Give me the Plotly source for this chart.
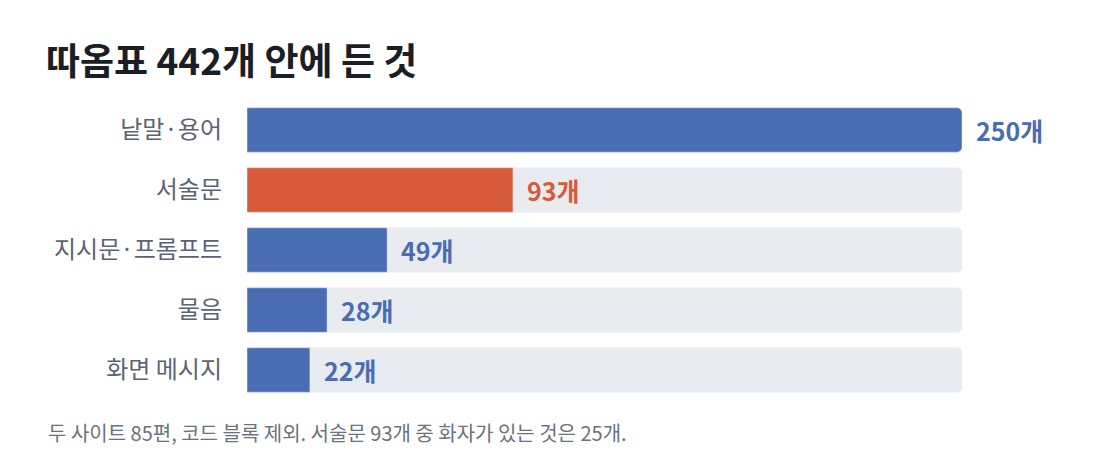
import plotly.graph_objects as go

categories = ["낱말·용어", "서술문", "지시문·프롬프트", "물음", "화면 메시지"]
values = [250, 93, 49, 28, 22]
colors = ["#4a6cb3", "#d75a3b", "#4a6cb3", "#4a6cb3", "#4a6cb3"]
track_max = 250

font = "Noto Sans CJK KR"
fig = go.Figure()
fig.add_trace(go.Bar(y=categories, x=[track_max]*len(categories), orientation="h",
                     marker=dict(color="#e8ebf0"), hoverinfo="skip", showlegend=False))
fig.add_trace(go.Bar(y=categories, x=values, orientation="h",
                     marker=dict(color=colors), showlegend=False))
for c, v, col in zip(categories, values, colors):
    fig.add_annotation(x=v, y=c, text=f"<b>{v}개</b>", showarrow=False, xanchor="left",
                       xshift=12, font=dict(family=font, size=25, color=col))
fig.update_layout(
    width=1100, height=472, barmode="overlay", bargap=0.26, barcornerradius=5,
    margin=dict(l=239, r=146, t=92, b=80),
    plot_bgcolor="white", paper_bgcolor="white",
    font=dict(family=font),
    xaxis=dict(visible=False, range=[0, track_max], fixedrange=True),
    yaxis=dict(autorange="reversed", showgrid=False, zeroline=False, showline=False,
               ticks="", ticklabelstandoff=24,
               tickfont=dict(family=font, size=24, color="#5b6477")),
    title=dict(text="<b>따옴표 442개 안에 든 것</b>", x=38/1100, xanchor="left",
               y=1-54/472, yanchor="middle", font=dict(family=font, size=37, color="#1b1e26")),
)
fig.add_annotation(xref="paper", yref="paper", x=-201/715, y=-32/300, xanchor="left",
                   yanchor="middle", showarrow=False,
                   text="두 사이트 85편, 코드 블록 제외. 서술문 93개 중 화자가 있는 것은 25개.",
                   font=dict(family=font, size=20, color="#6b7280"))
fig.write_html("out.html")
